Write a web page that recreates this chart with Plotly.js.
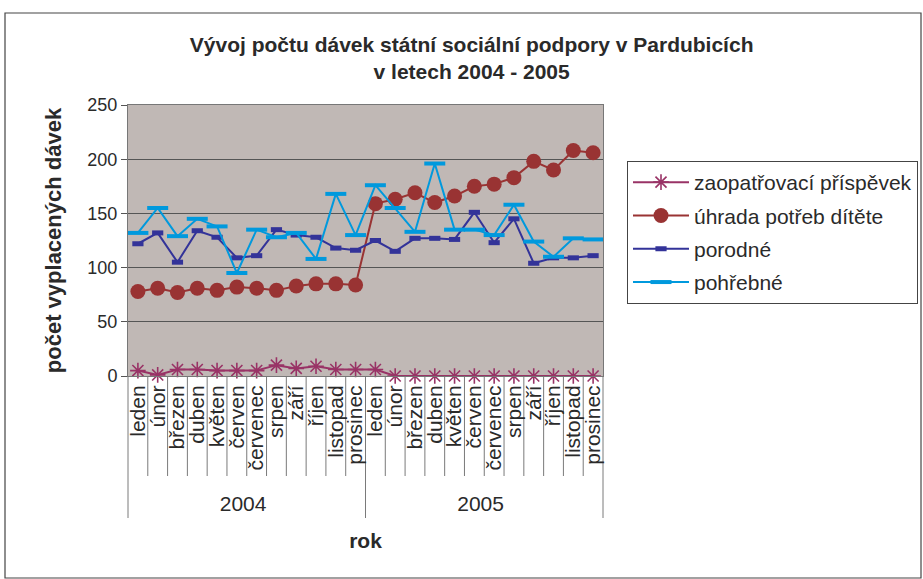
<!DOCTYPE html>
<html>
<head>
<meta charset="utf-8">
<script src="https://cdn.plot.ly/plotly-3.0.1.min.js"></script>
<style>html,body{margin:0;padding:0;background:#fff}#chart{width:923px;height:579px}</style>
</head>
<body>
<div id="chart"></div>
<script>
const months = ['leden','únor','březen','duben','květen','červen','červenec','srpen','září','říjen','listopad','prosinec'];
const years = ['2004','2005'];
const seriesNames = ['zaopatřovací příspěvek','úhrada potřeb dítěte','porodné','pohřebné'];
const zaopatrovaci = [5,1,6,6,5,5,5,10,7,9,6,6, 6,0,0,0,0,0,0,0,0,0,0,0];
const uhrada = [78,81,77,81,79,82,81,79,83,85,85,84, 159,163,169,160,166,175,177,183,198,190,208,206];
const porodne = [122,132,105,134,128,109,111,135,130,128,118,116, 125,115,127,127,126,151,123,145,104,109,109,111];
const pohrebne = [132,155,129,145,138,95,135,128,132,108,168,130, 176,155,133,196,135,135,130,158,124,110,127,126];

const outer = [], inner = [];
years.forEach(y => months.forEach(m => { outer.push(y); inner.push(m); }));
const xcat = [outer, inner];

const FONT = 'Liberation Sans, Arial, sans-serif';
const TXT = '#2a2a2a';
const traces = [
  {name: seriesNames[0], y: zaopatrovaci, color: '#993366', marker: {symbol: 'asterisk-open', size: 13, color: '#993366', line: {color: '#993366', width: 1.6}}},
  {name: seriesNames[1], y: uhrada, color: '#993333', marker: {symbol: 'circle', size: 15, color: '#993333'}},
  {name: seriesNames[2], y: porodne, color: '#333399', marker: {symbol: 'line-ew-open', size: 8, color: '#333399', line: {color: '#333399', width: 5}}},
  {name: seriesNames[3], y: pohrebne, color: '#0099DD', marker: {symbol: 'line-ew-open', size: 15, color: '#0099DD', line: {color: '#0099DD', width: 4}}}
].map((t, i) => ({
  type: 'scatter', mode: 'lines+markers', x: xcat, y: t.y, name: t.name,
  legendgroup: 'g' + i,
  line: {color: t.color, width: 2}, marker: t.marker, cliponaxis: false
}));

// geometry of plot area (px)
const L = 128, R = 603, T = 105, B = 376, W = 923, H = 579;
const px2x = p => (p - L) / (R - L);
const py2y = p => (B - p) / (B - T);
const n = inner.length;
const shapes = [];
for (let i = 0; i <= n; i++) {
  const isYear = (i % months.length === 0);
  shapes.push({type: 'line', xref: 'paper', yref: 'paper', layer: 'below', x0: i / n, x1: i / n, y0: 0, y1: isYear ? py2y(518) : py2y(476), line: {color: '#7a7a7a', width: 1}});
}
shapes.push({type: 'rect', xref: 'paper', yref: 'paper', x0: px2x(5), x1: px2x(921), y0: py2y(578), y1: py2y(13), line: {color: '#444', width: 1.2}});

const layout = {
  width: W, height: H,
  margin: {l: L, r: W - R, t: T, b: H - B, autoexpand: false},
  paper_bgcolor: '#ffffff', plot_bgcolor: '#C0B8B5',
  font: {family: FONT, size: 21, color: TXT},
  title: {text: '<b>Vývoj počtu dávek státní sociální podpory v Pardubicích<br>v letech 2004 - 2005</b>', font: {size: 21, family: FONT, color: TXT}, x: 0.511, xanchor: 'center', y: 0.91, yanchor: 'top'},
  xaxis: {type: 'multicategory', range: [-0.5, n - 0.5], autorange: false, tickmode: 'linear', tick0: 0, dtick: 1, tickangle: -90, ticks: '', showdividers: false, showgrid: false,
    showline: true, linecolor: '#777', mirror: true, tickfont: {size: 21},
    title: {text: '<b>rok</b>', font: {size: 21}, standoff: 19}},
  yaxis: {range: [0, 250], dtick: 50, showgrid: true, gridcolor: '#555', gridwidth: 1, zeroline: false,
    showline: true, linecolor: '#777', mirror: true, ticks: 'outside', ticklen: 6, tickcolor: '#555',
    tickfont: {size: 18},
    title: {text: '<b>počet vyplacených dávek</b>', font: {size: 22}, standoff: 19}},
  legend: {x: px2x(627), xanchor: 'left', y: py2y(161), yanchor: 'top', bgcolor: '#fff', bordercolor: '#444', borderwidth: 1,
    font: {size: 21}, traceorder: 'grouped', tracegroupgap: 3, itemwidth: 56},
  shapes: shapes,
  showlegend: true
};
Plotly.newPlot('chart', traces, layout, {displayModeBar: false});
</script>
</body>
</html>
